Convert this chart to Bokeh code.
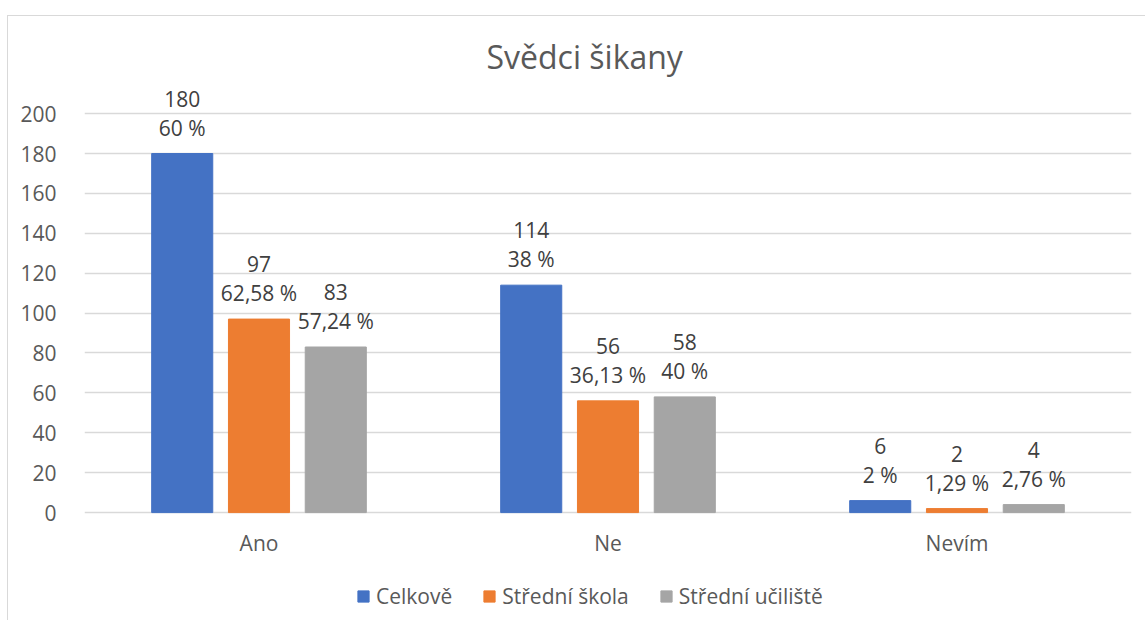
from bokeh.plotting import figure
from bokeh.models import ColumnDataSource, FactorRange, Range1d, FixedTicker, Legend, LegendItem
from bokeh.transform import dodge
from bokeh.core.properties import value
from bokeh.embed import file_html
from bokeh.resources import INLINE

categories = ["Ano", "Ne", "Nevím"]
series_names = ["Celkově", "Střední škola", "Střední učiliště"]
celkove = [180, 114, 6]
stredni_skola = [97, 56, 2]
stredni_uciliste = [83, 58, 4]
celkove_pct = ["60 %", "38 %", "2 %"]
stredni_skola_pct = ["62,58 %", "36,13 %", "1,29 %"]
stredni_uciliste_pct = ["57,24 %", "40 %", "2,76 %"]
y_ticks = [0, 20, 40, 60, 80, 100, 120, 140, 160, 180, 200]

colors = ["#4472C4", "#ED7D31", "#A5A5A5"]
FONT = "Open Sans"

src = ColumnDataSource(dict(
    cat=categories,
    zero=[0] * len(categories),
    s0=celkove, s1=stredni_skola, s2=stredni_uciliste,
    t0=[str(v) for v in celkove], t1=[str(v) for v in stredni_skola], t2=[str(v) for v in stredni_uciliste],
    p0=celkove_pct, p1=stredni_skola_pct, p2=stredni_uciliste_pct,
))

p = figure(
    x_range=FactorRange(*categories, range_padding=0),
    y_range=Range1d(-54.6, 216.6),
    width=1138, height=605,
    output_backend="svg", toolbar_location=None,
    min_border_left=76, min_border_right=15, min_border_top=64, min_border_bottom=0,
    title="Svědci šikany",
)
p.margin = (15, 0, 0, 7)
p.styles = {"border-top": "1px solid #d9d9d9", "border-left": "1px solid #d9d9d9"}

p.title.align = "left"
p.title.offset = 402
p.title.text_font = FONT
p.title.text_font_size = "32px"
p.title.text_font_style = "normal"
p.title.text_color = "#595959"
p.title.standoff = 5

p.outline_line_color = None
p.background_fill_color = "white"
p.border_fill_color = "white"

p.xgrid.grid_line_color = None
p.ygrid.grid_line_color = "#D9D9D9"
p.ygrid.grid_line_width = 1.5
p.yaxis.ticker = FixedTicker(ticks=y_ticks)
p.ygrid.ticker = FixedTicker(ticks=y_ticks)

p.xaxis.visible = False
p.yaxis.axis_line_color = None
p.yaxis.major_tick_line_color = None
p.yaxis.minor_tick_line_color = None
p.yaxis.major_label_text_font = FONT
p.yaxis.major_label_text_font_size = "21px"
p.yaxis.major_label_text_color = "#595959"
p.yaxis.major_label_standoff = 22

# category labels under the bars
p.text(x="cat", y="zero", text="cat", source=src, y_offset=30,
       text_align="center", text_baseline="middle",
       text_font=value(FONT), text_font_size="21px", text_color="#595959")

offsets = [-0.22, 0.0, 0.22]
renderers = []
for i in range(3):
    x = dodge("cat", offsets[i], range=p.x_range)
    r = p.vbar(x=x, top=f"s{i}", bottom=0, width=0.175, source=src,
               color=colors[i], line_color=colors[i])
    renderers.append(r)
    p.text(x=x, y=f"s{i}", text=f"t{i}", source=src, y_offset=-55,
           text_align="center", text_baseline="middle",
           text_font=value(FONT), text_font_size="21px", text_color="#404040")
    p.text(x=x, y=f"s{i}", text=f"p{i}", source=src, y_offset=-26,
           text_align="center", text_baseline="middle",
           text_font=value(FONT), text_font_size="21px", text_color="#404040")

legend = Legend(
    items=[LegendItem(label=series_names[i], renderers=[renderers[i]]) for i in range(3)],
    orientation="horizontal", location=(272, 11),
    label_text_font=FONT, label_text_font_size="21px", label_text_color="#595959",
    glyph_width=14, glyph_height=14, spacing=30, label_standoff=6,
    border_line_color=None, background_fill_alpha=0, margin=0, padding=4,
)
p.add_layout(legend, "center")

open("out.html", "w").write(file_html(p, INLINE))
